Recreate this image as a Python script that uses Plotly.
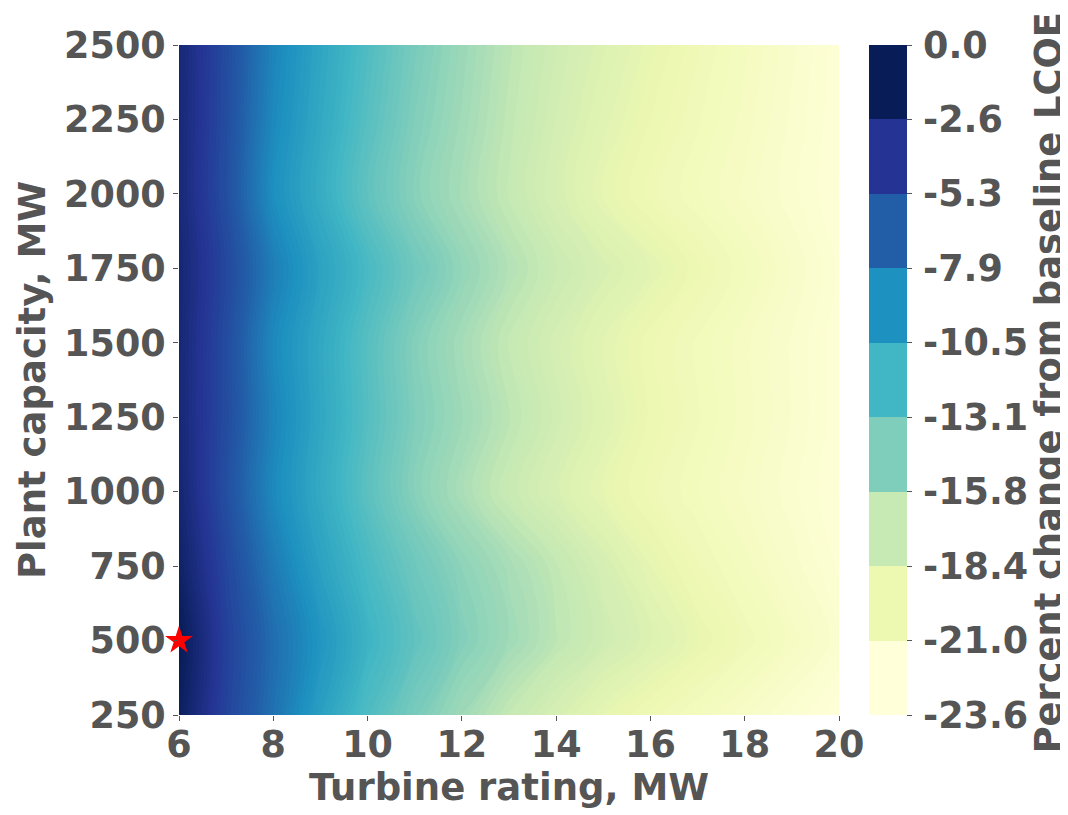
import numpy as np
import plotly.graph_objects as go

# ---------------- data ----------------
turbine_mw = [6, 7, 8, 9, 10, 11, 12, 13, 14, 15, 16, 17, 18, 19, 20]
plant_mw = [250, 500, 750, 1000, 1250, 1500, 1750, 2000, 2250, 2500]

z_250 = [-0.5, -4.13, -7.14, -10.11, -12.59, -14.55, -16.15, -17.7, -18.93, -20.16, -21.03, -21.68, -22.32, -22.96, -23.6]
z_500 = [0.0, -3.93, -6.88, -9.32, -11.68, -13.40, -14.99, -16.17, -17.35, -18.39, -19.37, -20.36, -21.21, -22.0, -22.8]
z_750 = [-0.8, -4.34, -7.61, -10.21, -12.32, -14.06, -15.41, -16.50, -17.59, -18.85, -20.14, -21.07, -21.78, -22.49, -23.2]
z_1000 = [-1.3, -4.92, -8.5, -10.89, -13.16, -15.17, -16.58, -17.93, -19.06, -20.2, -21.01, -21.61, -22.2, -22.8, -23.4]
z_1250 = [-1.5, -4.72, -8.2, -10.67, -12.85, -14.87, -16.10, -17.33, -18.49, -19.63, -20.71, -21.36, -22.01, -22.65, -23.3]
z_1500 = [-1.5, -4.72, -8.48, -10.75, -12.93, -15.02, -16.36, -17.7, -18.79, -19.89, -20.83, -21.45, -22.07, -22.68, -23.3]
z_1750 = [-1.4, -4.43, -7.87, -10.27, -12.28, -14.18, -15.65, -16.93, -18.07, -18.99, -19.91, -20.81, -21.61, -22.4, -23.2]
z_2000 = [-1.6, -4.92, -8.85, -11.12, -13.39, -15.24, -16.47, -17.7, -18.93, -20.16, -21.01, -21.61, -22.2, -22.8, -23.4]
z_2250 = [-1.55, -4.8, -8.5, -10.8, -12.95, -14.9, -16.2, -17.5, -18.65, -19.75, -20.65, -21.35, -22.0, -22.7, -23.35]
z_2500 = [-1.5, -4.72, -8.2, -10.54, -12.59, -14.55, -15.96, -17.3, -18.37, -19.32, -20.27, -21.09, -21.83, -22.57, -23.3]

baseline_turbine = [6]
baseline_plant = [500]

x_ticks = [6, 8, 10, 12, 14, 16, 18, 20]
y_ticks = [250, 500, 750, 1000, 1250, 1500, 1750, 2000, 2250, 2500]
cbar_ticktext = ["-23.6", "-21.0", "-18.4", "-15.8", "-13.1", "-10.5", "-7.9", "-5.3", "-2.6", "0.0"]
cbar_title = "Percent change from baseline LCOE"
z_min, z_max = -23.64, 0.0

# ---------------- styling ----------------
ylgnbu = ["#ffffd9", "#edf8b1", "#c7e9b4", "#7fcdbb", "#41b6c4",
          "#1d91c0", "#225ea8", "#253494", "#081d58"]
smooth_scale = [[i / 8, c] for i, c in enumerate(ylgnbu)]
discrete_scale = []
for i, c in enumerate(ylgnbu):
    discrete_scale.append([i / 9, c])
    discrete_scale.append([(i + 1) / 9, c])

TXT = "#555555"
FONT = dict(family="DejaVu Sans", size=36.5, color=TXT, weight="bold")
TITLE_FONT = dict(family="DejaVu Sans", size=37, color=TXT, weight="bold")
CB_TITLE_FONT = dict(family="DejaVu Sans", size=36.8, color=TXT, weight="bold")

# the page body adds an 8px offset; positions below are in figure pixels
OFF = 8
W, H = 1068, 815
ML, MT = 179 - OFF, 45 - OFF
PW, PH = 660, 670
MR = W - ML - PW
MB = H - MT - PH

z = [z_250, z_500, z_750, z_1000, z_1250, z_1500, z_1750, z_2000, z_2250, z_2500]

fig = go.Figure()
fig.add_trace(go.Contour(
    x=turbine_mw, y=plant_mw, z=z,
    colorscale=smooth_scale, zmin=z_min, zmax=z_max,
    autocontour=False,
    contours=dict(start=z_min, end=z_max, size=0.25, coloring="fill", showlines=False),
    line=dict(width=0),
    showscale=False, hoverinfo="skip",
))

# dummy trace for the discrete colorbar
cb_vals = list(np.linspace(z_min, z_max, len(cbar_ticktext)))
cb_x = (869 - OFF - ML) / PW
fig.add_trace(go.Scatter(
    x=baseline_turbine, y=baseline_plant, mode="markers",
    marker=dict(size=0.1, opacity=0, color=[-10], colorscale=discrete_scale,
                cmin=z_min, cmax=z_max, showscale=True,
                colorbar=dict(
                    x=cb_x, xanchor="left", xpad=0, y=0.5, yanchor="middle", ypad=0,
                    len=1, lenmode="fraction", thickness=38, outlinewidth=0,
                    tickvals=cb_vals, showticklabels=False,
                    ticks="outside", ticklen=5, tickcolor=TXT, tickwidth=1,
                )),
    showlegend=False, hoverinfo="skip",
))

fig.add_trace(go.Scatter(
    x=baseline_turbine, y=baseline_plant, mode="markers",
    marker=dict(symbol="star", size=21, color="red", line=dict(width=0)),
    cliponaxis=False, showlegend=False, hoverinfo="skip",
))

# colorbar tick labels and title as annotations (precise placement)
lab_x = (921 - OFF - ML) / PW
for v, t in zip(cb_vals, cbar_ticktext):
    fig.add_annotation(
        x=lab_x, y=(v - z_min) / (z_max - z_min), xref="paper", yref="paper",
        text=t, showarrow=False, xanchor="left", yanchor="middle", font=FONT,
    )
fig.add_annotation(
    x=(1048 - OFF - ML) / PW, y=0.495, xref="paper", yref="paper",
    text=cbar_title, textangle=-90, showarrow=False,
    xanchor="center", yanchor="middle", font=CB_TITLE_FONT,
)

fig.update_layout(
    width=W, height=H,
    margin=dict(l=ML, r=MR, t=MT, b=MB, autoexpand=False),
    paper_bgcolor="white", plot_bgcolor="white",
    font=FONT,
)
fig.update_xaxes(
    range=[6, 20], tickvals=x_ticks, ticks="outside", ticklen=5, tickcolor=TXT,
    showgrid=False, zeroline=False, showline=False, tickfont=FONT,
    ticklabelstandoff=-8, automargin=False,
    title=dict(text="Turbine rating, MW", font=TITLE_FONT, standoff=6),
)
fig.update_yaxes(
    range=[250, 2500], tickvals=y_ticks, ticks="outside", ticklen=5, tickcolor=TXT,
    showgrid=False, zeroline=False, showline=False, tickfont=FONT,
    automargin=False,
    title=dict(text="Plant capacity, MW", font=TITLE_FONT, standoff=7),
)

fig.write_html("out.html")
